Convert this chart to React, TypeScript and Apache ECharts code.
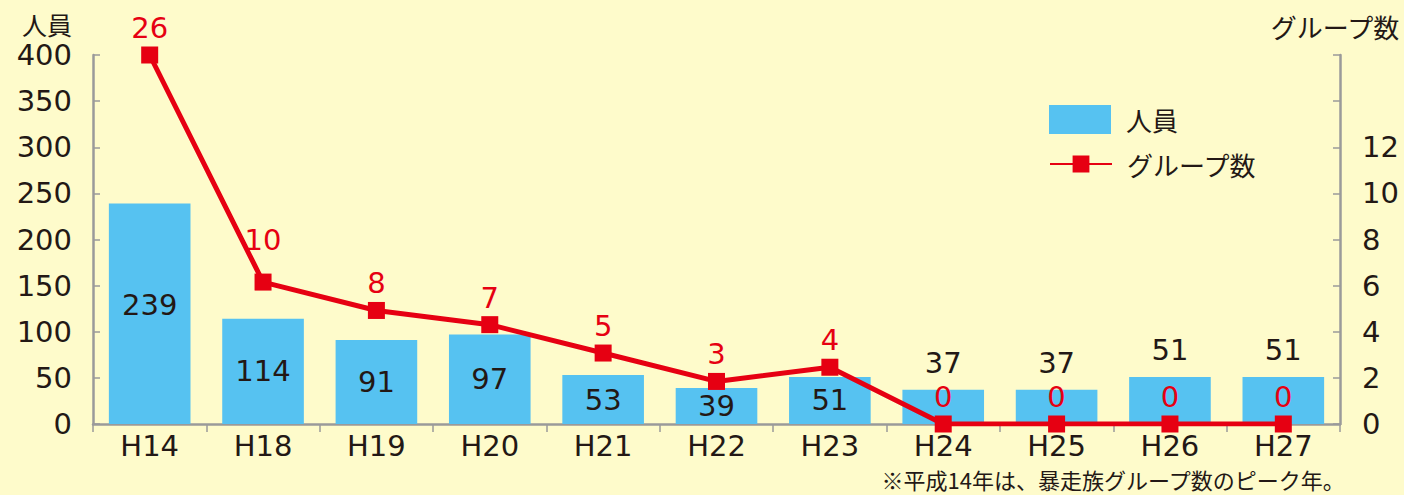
import React, { useEffect, useRef } from "react";
import * as echarts from "echarts";

const categories = ["H14", "H18", "H19", "H20", "H21", "H22", "H23", "H24", "H25", "H26", "H27"];
const members = [239, 114, 91, 97, 53, 39, 51, 37, 37, 51, 51];
const groups = [26, 10, 8, 7, 5, 3, 4, 0, 0, 0, 0];
const leftTicks = { min: 0, max: 400, interval: 50 };
const rightTicks = { min: 0, max: 16, interval: 2, maxLabel: 12 };
const lineScale = { min: 0, max: 26 };
const note = "※平成14年は、暴走族グループ数のピーク年。";

const RED = "#E60012";
const BLUE = "#56C2F1";
const BG = "#FEFBCB";
const INK = "#231815";
const GRAY = "#9A9A9A";
const NUM_FONT = "'DejaVu Sans', 'Noto Sans CJK JP', sans-serif";
const JP_FONT = "'Noto Sans CJK JP', 'DejaVu Sans', sans-serif";

export default function App() {
  const ref = useRef<HTMLDivElement>(null);
  useEffect(() => {
    document.body.style.margin = "0";
    if (!ref.current) return;
    const chart = echarts.init(ref.current, null, { renderer: "svg" });
    const barData = members.map((v, i) => {
      const item: any = { value: v };
      if (i >= 7) {
        item.label = { position: "top", distance: 12 };
      } else if (i === 0) {
        item.label = { offset: [0, -9] };
      }
      return item;
    });
    const lineData = groups.map((v, i) => {
      const item: any = { value: v };
      if (i === 1) item.label = { distance: 19 };
      return item;
    });
    chart.setOption({
      animation: false,
      backgroundColor: BG,
      textStyle: { fontFamily: NUM_FONT },
      grid: { left: 93, right: 64, top: 55, bottom: 71, containLabel: false, outerBoundsMode: "none" },
      legend: [
        {
          data: ["人員"],
          left: 1049,
          top: 105,
          padding: 0,
          orient: "vertical",
          icon: "rect",
          itemWidth: 62,
          itemHeight: 29,
          selectedMode: false,
          textStyle: { fontSize: 26, color: INK, fontFamily: JP_FONT, padding: [0, 0, 0, 10] },
        },
        {
          data: ["グループ数"],
          left: 1049,
          top: 151,
          padding: 0,
          orient: "vertical",
          itemWidth: 62,
          itemHeight: 21,
          selectedMode: false,
          textStyle: { fontSize: 26, color: INK, fontFamily: JP_FONT, padding: [0, 0, 0, 10] },
        },
      ],
      xAxis: {
        type: "category",
        data: categories,
        boundaryGap: true,
        axisLine: { lineStyle: { color: GRAY, width: 2.5 } },
        axisTick: { show: true, alignWithLabel: false, length: 8, lineStyle: { color: GRAY, width: 1.5 } },
        axisLabel: { fontSize: 29, color: INK, margin: 7, fontFamily: NUM_FONT },
      },
      yAxis: [
        {
          type: "value",
          min: leftTicks.min,
          max: leftTicks.max,
          interval: leftTicks.interval,
          position: "left",
          name: "人員",
          nameLocation: "end",
          nameGap: 20,
          nameTextStyle: { fontSize: 25, lineHeight: 22, color: INK, fontFamily: JP_FONT, align: "right", padding: [0, 21, 0, 0] },
          splitLine: { show: false },
          axisLine: { show: true, lineStyle: { color: GRAY, width: 2.5 } },
          axisTick: { show: true, inside: true, length: 7, lineStyle: { color: GRAY, width: 1.5 } },
          axisLabel: { fontSize: 29, color: INK, margin: 21, fontFamily: NUM_FONT },
        },
        {
          type: "value",
          min: rightTicks.min,
          max: rightTicks.max,
          interval: rightTicks.interval,
          position: "right",
          name: "グループ数",
          nameLocation: "end",
          nameGap: 18,
          nameTextStyle: { fontSize: 26, lineHeight: 22, color: INK, fontFamily: JP_FONT, padding: [0, 10, 0, 0] },
          splitLine: { show: false },
          axisLine: { show: true, lineStyle: { color: GRAY, width: 2.5 } },
          axisTick: { show: true, inside: true, length: 7, lineStyle: { color: GRAY, width: 1.5 } },
          axisLabel: {
            fontSize: 29,
            color: INK,
            margin: 22,
            fontFamily: NUM_FONT,
            formatter: (v: number) => (v <= rightTicks.maxLabel ? String(v) : ""),
          },
        },
        {
          type: "value",
          min: lineScale.min,
          max: lineScale.max,
          position: "right",
          show: false,
          splitLine: { show: false },
        },
      ],
      series: [
        {
          name: "人員",
          type: "bar",
          yAxisIndex: 0,
          data: barData,
          barWidth: "72%",
          itemStyle: { color: BLUE },
          label: {
            show: true,
            position: "inside",
            fontSize: 29,
            color: INK,
            fontFamily: NUM_FONT,
          },
          z: 2,
        },
        {
          name: "グループ数",
          type: "line",
          yAxisIndex: 2,
          data: lineData,
          symbol: "rect",
          symbolSize: 17,
          itemStyle: { color: RED },
          lineStyle: { color: RED, width: 5 },
          label: {
            show: true,
            position: "top",
            distance: 4,
            fontSize: 29,
            color: RED,
            fontFamily: NUM_FONT,
          },
          z: 3,
        },
      ],
      graphic: [
        {
          type: "text",
          right: 58,
          top: 468,
          style: { text: note, fontSize: 22, lineHeight: 22, fill: INK, fontFamily: JP_FONT },
        },
      ],
    });
    return () => chart.dispose();
  }, []);
  return <div ref={ref} style={{ position: "fixed", left: 0, top: 0, width: 1404, height: 495 }} />;
}
